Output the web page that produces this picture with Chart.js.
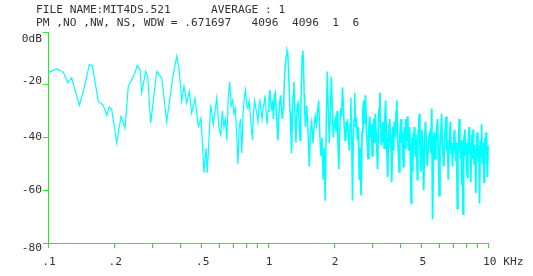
<!DOCTYPE html>
<html>
<head>
<meta charset="utf-8">
<script src="https://cdn.jsdelivr.net/npm/chart.js@4/dist/chart.umd.min.js"></script>
<style>
html,body{margin:0;padding:0;background:#fff;}
#wrap{width:533px;height:276px;position:relative;}
</style>
</head>
<body>
<div id="wrap"><canvas id="c" width="533" height="276"></canvas></div>
<script>
// ---- text ----
const headerLine1 = "FILE NAME:MIT4DS.521      AVERAGE : 1";
const headerLine2 = "PM ,NO ,NW, NS, WDW = .671697   4096  4096  1  6";

// ---- spectrum (frequency in kHz, level in dB) ----
// 0.1 - 0.6 kHz
const freqLow = [
0.100,0.1095,0.1174,0.1229,0.1281,0.1388,0.1462,0.1541,0.1590,0.1693,
0.1784,0.1849,0.1899,0.1948,0.2053,0.2147,0.2239,0.2317,0.2359,0.2486,
0.2546,0.2619,0.2666,0.2780,0.2839,0.2930,0.3120,0.3287,0.3464,0.3688,
0.3846,0.3952,0.4053,0.4152,0.4271,0.4388,0.4500,0.4658,0.4822,0.4960,
0.5119,0.5227,0.5299,0.5490,0.5642,0.5846
];
const dbLow = [
-15.5,-13.9,-15.2,-19.3,-17.4,-27.8,-21.2,-12.4,-12.7,-26.3,
-27.8,-31.6,-28.4,-29.4,-42.1,-32.0,-36.4,-20.6,-19.3,-15.5,
-12.7,-14.3,-23.1,-14.9,-16.8,-34.5,-14.9,-17.4,-34.1,-17.4,
-9.2,-14.9,-26.3,-20.6,-26.9,-22.5,-30.7,-25.0,-35.8,-32.6,
-53.4,-44.0,-53.4,-27.6,-35.1,-25.0
];
// 0.6 - 1.0 kHz
const freqMid1 = [
0.60,0.61,0.62,0.63,0.64,0.65,0.66,0.67,0.68,0.69,
0.70,0.71,0.72,0.73,0.74,0.75,0.76,0.77,0.78,0.79,
0.80,0.81,0.82,0.83,0.84,0.85,0.86,0.87,0.88,0.89,
0.90,0.91,0.92,0.93,0.94,0.95,0.96,0.97,0.98,0.99
];
const dbMid1 = [
-37,-39,-30,-36,-33,-41,-24,-19,-28,-26,
-31,-29,-38,-50,-36,-33,-46,-31,-25,-22,
-28,-29,-26,-31,-36,-41,-30,-26,-29,-31,
-34,-28,-26,-30,-33,-29,-27,-24,-30,-35
];
// 1.0 - 2.5 kHz
const freqMid2 = [
1.00,1.01,1.02,1.03,1.04,1.05,1.06,1.07,1.08,1.09,
1.10,1.11,1.12,1.13,1.14,1.15,1.16,1.17,1.18,1.19,
1.20,1.21,1.22,1.23,1.24,1.25,1.26,1.27,1.28,1.29,
1.30,1.31,1.32,1.33,1.34,1.35,1.36,1.37,1.38,1.39,
1.40,1.41,1.42,1.43,1.44,1.45,1.46,1.47,1.48,1.49,
1.50,1.52,1.54,1.56,1.58,1.60,1.62,1.64,1.66,1.68,
1.70,1.72,1.74,1.76,1.78,1.80,1.82,1.84,1.86,1.88,
1.90,1.92,1.94,1.96,1.98,2.00,2.02,2.04,2.06,2.08,
2.10,2.12,2.14,2.16,2.18,2.20,2.22,2.24,2.26,2.28,
2.30,2.32,2.34,2.36,2.38,2.40,2.42,2.44,2.46,2.48,
2.50
];
const dbMid2 = [
-30,-26,-22,-27,-29,-27,-33,-24,-23,-30,
-35,-41,-32,-27,-24,-28,-33,-29,-25,-16,
-13,-9,-7,-8,-15,-22,-30,-38,-46,-33,
-24,-19,-25,-36,-42,-33,-28,-27,-31,-37,
-41,-29,-18,-9,-7,-12,-24,-31,-36,-30,
-28,-38,-51,-37,-34,-42,-36,-32,-35,-30,
-26,-39,-47,-40,-56,-44,-64,-35,-15,-30,
-42,-31,-17,-28,-40,-35,-33,-38,-30,-44,
-52,-37,-29,-32,-21,-27,-36,-41,-34,-38,
-33,-40,-45,-35,-25,-38,-64,-42,-33,-23,
-36
];
// 2.5 - 5.0 kHz
const freqHigh1 = [
2.525,2.55,2.575,2.60,2.625,2.65,2.675,2.70,2.725,2.75,
2.775,2.80,2.825,2.85,2.875,2.90,2.925,2.95,2.975,3.00,
3.025,3.05,3.075,3.10,3.125,3.15,3.175,3.20,3.225,3.25,
3.275,3.30,3.325,3.35,3.375,3.40,3.425,3.45,3.475,3.50,
3.525,3.55,3.575,3.60,3.625,3.65,3.675,3.70,3.725,3.75,
3.775,3.80,3.825,3.85,3.875,3.90,3.925,3.95,3.975,4.00,
4.025,4.05,4.075,4.10,4.125,4.15,4.175,4.20,4.225,4.25,
4.275,4.30,4.325,4.35,4.375,4.40,4.425,4.45,4.475,4.50,
4.525,4.55,4.575,4.60,4.625,4.65,4.675,4.70,4.725,4.75,
4.775,4.80,4.825,4.85,4.875,4.90,4.925,4.95,4.975,5.00
];
const dbHigh1 = [
-34,-41,-36,-56,-44,-62,-38,-30,-26,-35,
-24,-37,-42,-48,-36,-32,-40,-35,-47,-38,
-33,-42,-31,-39,-45,-52,-37,-29,-23,-36,
-43,-41,-34,-38,-44,-32,-26,-39,-46,-55,
-40,-35,-33,-44,-39,-57,-42,-36,-45,-34,
-40,-37,-30,-26,-38,-43,-48,-53,-40,-35,
-33,-42,-38,-46,-51,-39,-36,-44,-33,-41,
-37,-32,-39,-45,-41,-36,-43,-52,-65,-47,
-40,-53,-38,-43,-36,-40,-47,-39,-44,-49,
-56,-41,-37,-33,-31,-42,-46,-53,-41,-37
];
// 5.0 - 11 kHz
const freqHigh2 = [
5.05,5.10,5.15,5.20,5.25,5.30,5.35,5.40,5.45,5.50,
5.55,5.60,5.65,5.70,5.75,5.80,5.85,5.90,5.95,6.00,
6.05,6.10,6.15,6.20,6.25,6.30,6.35,6.40,6.45,6.50,
6.55,6.60,6.65,6.70,6.75,6.80,6.85,6.90,6.95,7.00,
7.05,7.10,7.15,7.20,7.25,7.30,7.35,7.40,7.45,7.50,
7.55,7.60,7.65,7.70,7.75,7.80,7.85,7.90,7.95,8.00,
8.05,8.10,8.15,8.20,8.25,8.30,8.35,8.40,8.45,8.50,
8.55,8.60,8.65,8.70,8.75,8.80,8.85,8.90,8.95,9.00,
9.05,9.10,9.15,9.20,9.25,9.30,9.35,9.40,9.45,9.50,
9.55,9.60,9.65,9.70,9.75,9.80,9.85,9.90,9.95,10.00,
10.05,10.10,10.15,10.20,10.25,10.30,10.35,10.40,10.45,10.50,
10.55,10.60,10.65,10.70,10.75,10.80,10.85,10.90,10.95,11.00
];
const dbHigh2 = [
-45,-60,-41,-34,-43,-51,-44,-39,-38,-46,
-29,-71,-42,-38,-48,-41,-36,-33,-47,-62,
-44,-39,-31,-43,-47,-51,-40,-36,-32,-45,
-41,-56,-43,-38,-34,-46,-42,-51,-44,-39,
-37,-45,-49,-42,-67,-46,-40,-33,-44,-48,
-41,-58,-45,-69,-43,-39,-37,-47,-42,-50,
-55,-44,-40,-36,-46,-42,-57,-45,-39,-48,
-37,-44,-50,-43,-47,-61,-45,-41,-38,-46,
-49,-43,-65,-47,-41,-44,-35,-45,-50,-42,
-48,-57,-44,-40,-46,-38,-47,-51,-55,-43,
-40,-45,-49,-42,-36,-44,-50,-55,-46,-41,
-40,-47,-43,-52,-45,-39,-48,-44,-42,-46
];

const xTickValues = [0.1,0.2,0.3,0.4,0.5,0.6,0.7,0.8,0.9,1,2,3,4,5,6,7,8,9,10];
const xLabelValues = [0.1,0.2,0.5,1,2,5,10];
const xLabelTexts = [".1",".2",".5","1","2","5","10 KHz"];
const yTickValues = [0,-20,-40,-60,-80];
const yLabelTexts = ["0dB","-20","-40","-60","-80"];

// ---- styling ----
const AXIS_GREEN = '#22f022';
const LINE_CYAN = '#00ffff';
const TEXT_COLOR = '#333333';
const MONO = '11.2px "DejaVu Sans Mono", "Liberation Mono", monospace';
const yLabelShift = [7, -3.5, 0, 0, 5];

const allFreq = [].concat(freqLow, freqMid1, freqMid2, freqHigh1, freqHigh2);
const allDb = [].concat(dbLow, dbMid1, dbMid2, dbHigh1, dbHigh2);
const points = allFreq.map((f, i) => ({x: f, y: allDb[i]}));

const textPlugin = {
  id: 'textPlugin',
  beforeDraw(chart) {
    const ctx = chart.ctx;
    ctx.save();
    ctx.fillStyle = '#ffffff';
    ctx.fillRect(0, 0, chart.width, chart.height);
    ctx.restore();
  },
  afterDraw(chart) {
    const ctx = chart.ctx;
    const xs = chart.scales.x, ys = chart.scales.y;
    ctx.save();
    ctx.fillStyle = TEXT_COLOR;
    ctx.font = MONO;
    ctx.textBaseline = 'middle';
    ctx.textAlign = 'left';
    ctx.fillText(headerLine1, 36, 10.5);
    ctx.fillText(headerLine2, 36, 23.5);
    ctx.textAlign = 'right';
    yTickValues.forEach((v, i) => {
      ctx.fillText(yLabelTexts[i], 42, ys.getPixelForValue(v) + yLabelShift[i]);
    });
    xLabelValues.forEach((v, i) => {
      const px = xs.getPixelForValue(v);
      const t = xLabelTexts[i];
      if (i === xLabelValues.length - 1) {
        ctx.textAlign = 'left';
        ctx.fillText(t, px - 5, 262);
      } else {
        ctx.textAlign = 'center';
        ctx.fillText(t, px + 1, 262);
      }
    });
    ctx.restore();
  }
};

new Chart(document.getElementById('c'), {
  type: 'line',
  data: {
    datasets: [{
      data: points,
      borderColor: LINE_CYAN,
      borderWidth: 1.2,
      pointRadius: 0,
      tension: 0,
      fill: false,
      clip: false,
      segment: {
        borderWidth: (ctx) => (ctx.p0.parsed.x >= 2.5 ? 1.8 : (ctx.p0.parsed.x >= 1 ? 1.5 : 1.2))
      }
    }]
  },
  options: {
    responsive: false,
    animation: false,
    devicePixelRatio: 1,
    layout: { padding: { left: 43, right: 45, top: 32, bottom: 28 } },
    plugins: { legend: { display: false }, tooltip: { enabled: false }, title: { display: false } },
    scales: {
      x: {
        type: 'logarithmic',
        min: 0.1, max: 10,
        afterBuildTicks: (s) => { s.ticks = xTickValues.map(v => ({value: v})); },
        ticks: { display: false },
        grid: { drawOnChartArea: false, drawTicks: true, tickLength: 5, color: AXIS_GREEN, lineWidth: 1 },
        border: { display: true, color: AXIS_GREEN, width: 1 }
      },
      y: {
        type: 'linear',
        min: -80, max: 0,
        afterBuildTicks: (s) => { s.ticks = yTickValues.map(v => ({value: v})); },
        ticks: { display: false },
        grid: { drawOnChartArea: false, drawTicks: true, tickLength: 5, color: AXIS_GREEN, lineWidth: 1 },
        border: { display: true, color: AXIS_GREEN, width: 1 }
      }
    }
  },
  plugins: [textPlugin]
});
</script>
</body>
</html>
